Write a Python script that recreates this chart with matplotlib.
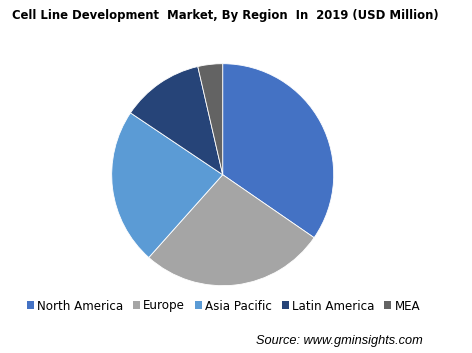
import matplotlib
matplotlib.use("Agg")
import matplotlib.pyplot as plt
from matplotlib.patches import Patch

# Market share by region (estimated from the chart, %)
regions = ["North America", "Europe", "Asia Pacific", "Latin America", "MEA"]
shares = [34.6, 27.0, 22.8, 12.0, 3.6]
colors = ["#4472C4", "#A5A5A5", "#5B9BD5", "#264478", "#636363"]

W, H = 472, 353
fig = plt.figure(figsize=(W / 100, H / 100), dpi=100)

# pie centre ~ (222.7, 174.7) px, radius ~111 px
cx, cy, r = 222.7, 174.7, 111
ax = fig.add_axes([(cx - r) / W, (H - cy - r) / H, 2 * r / W, 2 * r / H])
ax.pie(shares, colors=colors, startangle=90, counterclock=False, radius=1,
       wedgeprops=dict(edgecolor="white", linewidth=0.6))
ax.set_xlim(-1, 1)
ax.set_ylim(-1, 1)
ax.set_aspect("auto")
ax.axis("off")

fig.text(12 / W, 1 - 15 / H,
         "Cell Line Development  Market, By Region  In  2019 (USD Million)",
         fontsize=8.35, fontweight="bold", ha="left", va="center")

handles = [Patch(facecolor=c, edgecolor="none") for c in colors]
fig.legend(handles, regions, loc="center left", bbox_to_anchor=(27 / W, 1 - 306 / H),
           ncol=5, frameon=False, fontsize=8.6, handlelength=0.6, handleheight=0.6,
           handletextpad=0.25, columnspacing=0.82, borderpad=0, borderaxespad=0)

fig.text(423 / W, 1 - 341 / H, "Source: www.gminsights.com", fontsize=9.2,
         fontstyle="italic", family="Liberation Sans", ha="right", va="center")

fig.savefig("out.png", dpi=100)
